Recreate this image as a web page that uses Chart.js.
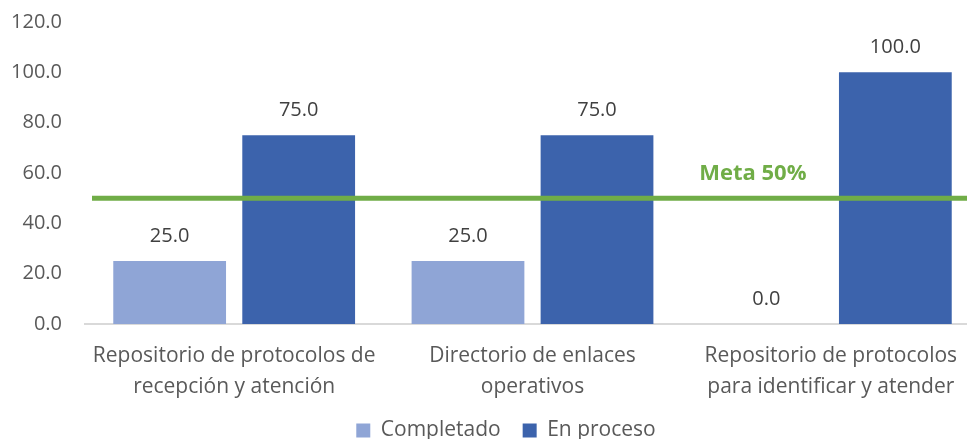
<!DOCTYPE html>
<html><head><meta charset="utf-8">
<script src="https://cdn.jsdelivr.net/npm/chart.js@4"></script>
<style>html,body{margin:0;padding:0;background:#fff;overflow:hidden;width:967px;height:439px}#wrap{width:980px;height:451px;position:relative}</style>
</head><body><div id="wrap"><canvas id="c"></canvas></div>
<script>
const categories = [
  ["Repositorio de protocolos de", "recepción y atención"],
  ["Directorio de enlaces", "operativos"],
  ["Repositorio de protocolos", "para identificar y atender"]
];
const seriesNames = ["Completado", "En proceso"];
const completado = [25, 25, 0];
const enProceso = [75, 75, 100];
const meta = 50;
const metaLabel = "Meta 50%";
const yTicks = [0, 20, 40, 60, 80, 100, 120];

const FONT = "'Open Sans', sans-serif";

const dataLabels = {
  id: 'dataLabels',
  afterDatasetsDraw(chart) {
    const ctx = chart.ctx;
    ctx.save();
    ctx.font = "20px " + FONT;
    ctx.fillStyle = '#404040';
    ctx.textAlign = 'center';
    ctx.textBaseline = 'middle';
    chart.data.datasets.forEach((ds, di) => {
      const m = chart.getDatasetMeta(di);
      m.data.forEach((el, i) => {
        ctx.fillText(Number(ds.data[i]).toFixed(1), el.x, el.y - 25);
      });
    });
    ctx.restore();
  }
};

const metaLine = {
  id: 'metaLine',
  afterDatasetsDraw(chart) {
    const ctx = chart.ctx;
    const a = chart.chartArea;
    const y = chart.scales.y.getPixelForValue(meta);
    ctx.save();
    ctx.strokeStyle = '#70AD47';
    ctx.lineWidth = 5;
    ctx.beginPath();
    ctx.moveTo(a.left + 7, y);
    ctx.lineTo(a.right, y);
    ctx.stroke();
    ctx.font = "bold 22px " + FONT;
    ctx.fillStyle = '#70AD47';
    ctx.textAlign = 'center';
    ctx.textBaseline = 'middle';
    const x = chart.scales.x.getPixelForValue(2) - 78;
    ctx.fillText(metaLabel, x, y - 24);
    ctx.restore();
  }
};

const legendShift = {
  id: 'legendShift',
  afterLayout(chart) {
    const lg = chart.legend;
    if (lg) { lg.left += 32; }
  }
};

new Chart(document.getElementById('c'), {
  type: 'bar',
  data: {
    labels: categories,
    datasets: [
      { label: seriesNames[0], data: completado, backgroundColor: '#8FA5D6', categoryPercentage: 0.865, barPercentage: 0.874 },
      { label: seriesNames[1], data: enProceso, backgroundColor: '#3C63AC', categoryPercentage: 0.865, barPercentage: 0.874 }
    ]
  },
  options: {
    responsive: true,
    maintainAspectRatio: false,
    animation: false,
    layout: { padding: { left: 0, right: 0, top: 22, bottom: 0 } },
    plugins: {
      legend: {
        position: 'bottom',
        labels: {
          boxWidth: 14, boxHeight: 14, padding: 22,
          color: '#595959',
          font: { family: FONT, size: 21 }
        }
      },
      tooltip: { enabled: false },
      title: { display: false }
    },
    scales: {
      x: {
        grid: { display: false, drawTicks: false },
        border: { display: true, color: '#d9d9d9', width: 2 },
        ticks: { color: '#595959', font: { family: FONT, size: 21, lineHeight: 1.45 }, padding: 17, maxRotation: 0, autoSkip: false },
        afterFit(s) { s.height = 74; s.paddingLeft = 0; s.paddingRight = 0; }
      },
      y: {
        min: 0, max: 120,
        afterBuildTicks(s) { s.ticks = yTicks.map(v => ({ value: v })); },
        grid: { display: false, drawTicks: false },
        border: { display: false },
        ticks: { color: '#595959', font: { family: FONT, size: 20 }, padding: 23, callback: v => Number(v).toFixed(1) },
        afterFit(s) { s.width = 85; s.paddingTop = 0; s.paddingBottom = 0; }
      }
    }
  },
  plugins: [dataLabels, metaLine, legendShift]
});
</script>
</body></html>
